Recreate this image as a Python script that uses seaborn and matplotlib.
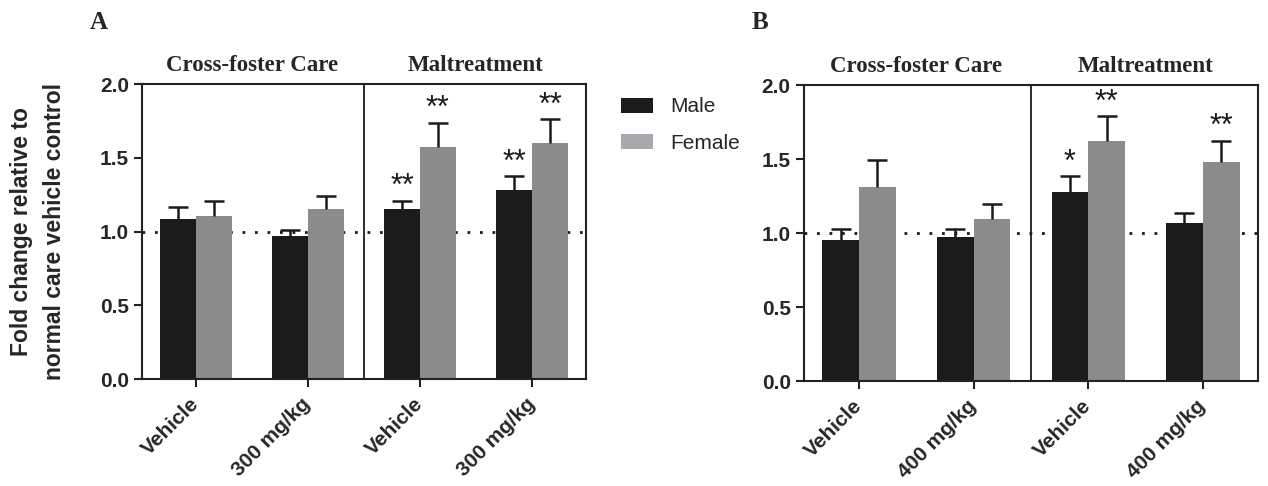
import numpy as np
import pandas as pd
import matplotlib
matplotlib.use("Agg")
import matplotlib.pyplot as plt
import seaborn as sns

# ----------------------------
# Dados
# ----------------------------
grupos = ["Cross-foster Care", "Maltreatment"]
sexos = ["Male", "Female"]
cond_a = ["CF Vehicle", "CF 300", "MT Vehicle", "MT 300"]
cond_b = ["CF Vehicle", "CF 400", "MT Vehicle", "MT 400"]
ticks_a = ["Vehicle", "300 mg/kg", "Vehicle", "300 mg/kg"]
ticks_b = ["Vehicle", "400 mg/kg", "Vehicle", "400 mg/kg"]

a_male = [1.085, 0.97, 1.15, 1.28]
a_male_err = [0.08, 0.04, 0.06, 0.095]
a_female = [1.107, 1.155, 1.571, 1.598]
a_female_err = [0.10, 0.085, 0.167, 0.163]
a_male_sig = ["", "", "**", "**"]
a_female_sig = ["", "", "**", "**"]

b_male = [0.952, 0.975, 1.274, 1.068]
b_male_err = [0.078, 0.055, 0.109, 0.066]
b_female = [1.308, 1.098, 1.625, 1.482]
b_female_err = [0.186, 0.095, 0.163, 0.143]
b_male_sig = ["", "", "*", ""]
b_female_sig = ["", "", "**", "**"]

cores = {"Male": "#1b1b1b", "Female": "#8b8b8b"}
cor_legenda_female = "#aaa8ad"

sns.set_style("ticks")
plt.rcParams["font.family"] = ["Liberation Sans", "DejaVu Sans"]


def monta_df(conds, male, female):
    return pd.DataFrame({
        "cond": conds * 2,
        "sexo": ["Male"] * 4 + ["Female"] * 4,
        "valor": male + female,
    })


def painel(ax, conds, ticks, male, female, male_err, female_err, male_sig, female_sig, legenda):
    df = monta_df(conds, male, female)
    sns.barplot(data=df, x="cond", y="valor", hue="sexo", order=conds, hue_order=sexos,
                palette=cores, width=0.64, errorbar=None, saturation=1,
                edgecolor="none", ax=ax, legend=legenda)

    erros = [male_err, female_err]
    sigs = [male_sig, female_sig]
    barras = list(ax.containers)[:2]
    for k, cont in enumerate(barras):
        for i, bar in enumerate(cont.patches):
            xc = bar.get_x() + bar.get_width() / 2
            h = bar.get_height()
            e = erros[k][i]
            eb = ax.errorbar(xc, h, yerr=[[0], [e]], fmt="none", ecolor="#1b1b1b",
                             elinewidth=1.8, capsize=7, capthick=1.8, zorder=3)
            # so o lado de cima (estilo Prism)
            eb[1][0].set_visible(False)
            if sigs[k][i]:
                ax.annotate(sigs[k][i], xy=(xc, h + e), xytext=(0, -1),
                            textcoords="offset points", ha="center", va="bottom",
                            fontsize=22, color="#1b1b1b")

    ax.axhline(1.0, color="#1b1b1b", ls=(0, (1, 3.5)), lw=2, zorder=0)
    ax.axvline(1.5, color="#1b1b1b", lw=1.3)

    ax.set_ylim(0, 2.0)
    ax.set_xlim(-0.48, 3.48)
    ax.set_yticks([0.0, 0.5, 1.0, 1.5, 2.0])
    ax.set_yticklabels(["0.0", "0.5", "1.0", "1.5", "2.0"], fontsize=15, fontweight="bold")
    ax.set_xticks(range(4))
    ax.set_xticklabels(ticks, rotation=45, ha="right", va="center",
                       rotation_mode="anchor", fontsize=15, fontweight="bold")
    ax.tick_params(axis="both", length=6, width=1.5, color="#222222")
    ax.tick_params(axis="x", pad=10)
    ax.set_xlabel("")
    ax.set_ylabel("")
    for s in ax.spines.values():
        s.set_visible(True)
        s.set_linewidth(1.5)
        s.set_color("#222222")

    for j, g in enumerate(grupos):
        ax.annotate(g, xy=(0.5 + 2 * j, 1), xycoords=("data", "axes fraction"),
                    xytext=(0, 6), textcoords="offset points", ha="center", va="bottom",
                    fontsize=16.5, fontweight="bold", family=["Liberation Serif", "DejaVu Serif"])


fig = plt.figure(figsize=(12.68, 4.86), dpi=100)
ax_a = fig.add_axes([0.112, 0.220, 0.350, 0.607])
ax_b = fig.add_axes([0.634, 0.216, 0.358, 0.609])

painel(ax_a, cond_a, ticks_a, a_male, a_female, a_male_err, a_female_err,
       a_male_sig, a_female_sig, True)
painel(ax_b, cond_b, ticks_b, b_male, b_female, b_male_err, b_female_err,
       b_male_sig, b_female_sig, False)

ax_a.set_ylabel("Fold change relative to\nnormal care vehicle control", fontsize=16.5,
                fontweight="bold", linespacing=1.55)
ax_a.yaxis.set_label_coords(-0.172, 0.5)

# legenda
sns.move_legend(ax_a, "upper left", bbox_to_anchor=(0.475, 0.838),
                bbox_transform=fig.transFigure, frameon=False, title=None,
                fontsize=15, handlelength=1.55, handleheight=0.72,
                labelspacing=0.85, handletextpad=0.8)
leg = ax_a.get_legend()
leg.legend_handles[1].set_facecolor(cor_legenda_female)

fig.text(0.071, 0.94, "A", fontsize=18, fontweight="bold",
         family=["Liberation Serif", "DejaVu Serif"])
fig.text(0.593, 0.94, "B", fontsize=18, fontweight="bold",
         family=["Liberation Serif", "DejaVu Serif"])

fig.savefig("out.png", dpi=100)
